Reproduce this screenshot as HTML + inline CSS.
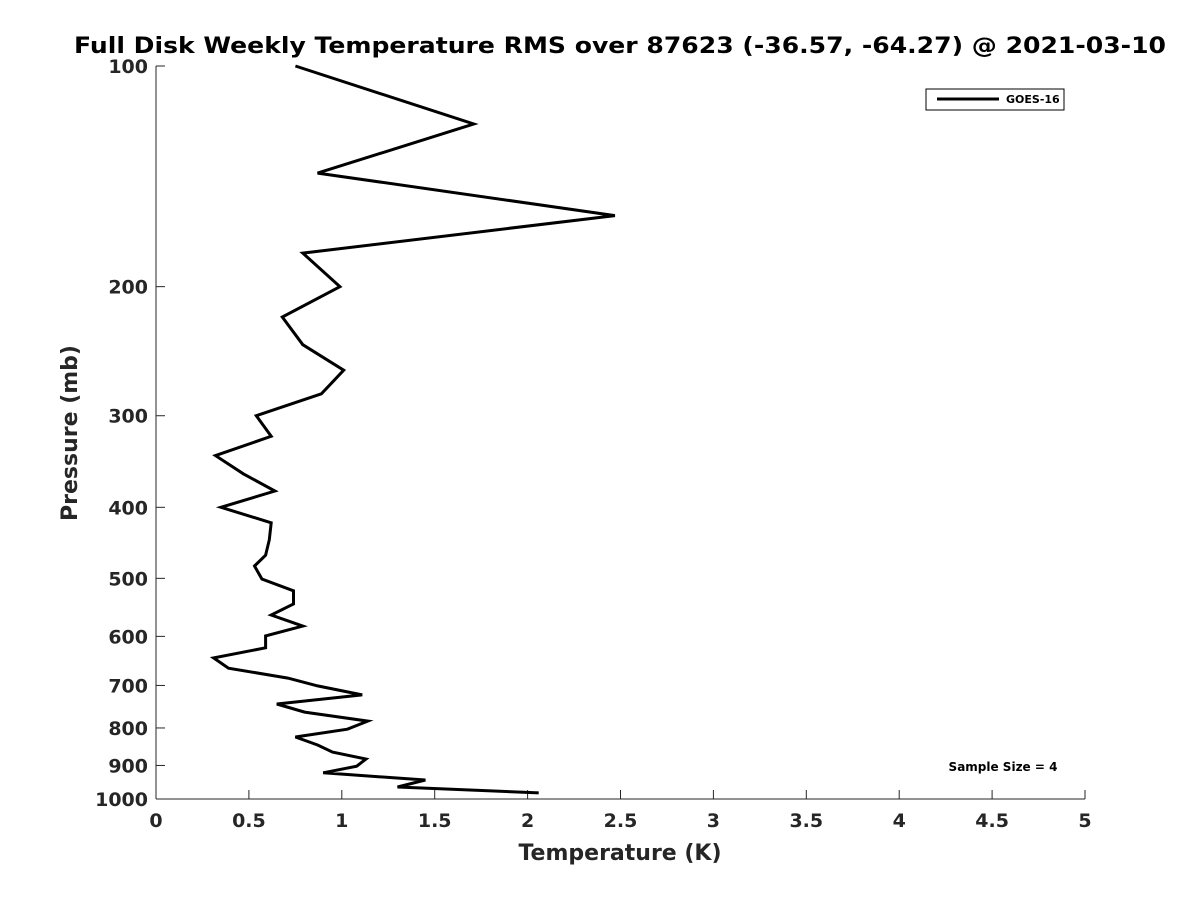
<!DOCTYPE html>
<html><head><meta charset="utf-8"><style>
html,body{margin:0;padding:0;background:#fff;}
svg{display:block;font-family:"DejaVu Sans","Liberation Sans",sans-serif;font-weight:bold;}
</style></head><body>
<svg id="chart" width="1200" height="900" viewBox="0 0 1200 900">
<rect width="1200" height="900" fill="#fff"/>
<text x="620" y="53" text-anchor="middle" font-size="22" fill="#000" textLength="1092" lengthAdjust="spacingAndGlyphs">Full Disk Weekly Temperature RMS over 87623 (-36.57, -64.27) @ 2021-03-10</text>
<g id="axes"></g>
<path id="line" fill="none" stroke="#000" stroke-width="3" stroke-linejoin="miter"/>
<g>
<rect x="926" y="89" width="138" height="21" fill="#fff" stroke="#000" stroke-width="1"/>
<line x1="937" y1="99" x2="999" y2="99" stroke="#000" stroke-width="3"/>
<text x="1006" y="103" font-size="11" fill="#000">GOES-16</text>
</g>
<text x="1003" y="771" text-anchor="middle" font-size="12" fill="#000">Sample Size = 4</text>
<text x="620" y="860" text-anchor="middle" font-size="22" fill="#262626">Temperature (K)</text>
<text transform="translate(77,433) rotate(-90)" text-anchor="middle" font-size="22" fill="#262626">Pressure (mb)</text>
</svg>
<script>
const pressures=[100,120,140,160,180,200,220,240,260,280,300,320,340,360,380,400,420,443,465,481,501,520,542,561,581,599,622,642,663,684,701,721,742,761,783,803,823,844,863,882,902,921,942,963,981];
const temps=[0.75,1.71,0.87,2.47,0.79,0.99,0.68,0.79,1.01,0.89,0.54,0.62,0.32,0.47,0.64,0.35,0.62,0.61,0.59,0.53,0.57,0.74,0.74,0.62,0.79,0.59,0.59,0.31,0.39,0.71,0.87,1.11,0.65,0.80,1.14,1.03,0.75,0.87,0.95,1.13,1.08,0.90,1.45,1.30,2.06];
const xTicks=[0,0.5,1,1.5,2,2.5,3,3.5,4,4.5,5];
const xTickLabels=["0","0.5","1","1.5","2","2.5","3","3.5","4","4.5","5"];
const yTicks=[100,200,300,400,500,600,700,800,900,1000];
const yTickLabels=["100","200","300","400","500","600","700","800","900","1000"];
const X0=156,X1=1085,Y0=66,Y1=799,XMAX=5;
function xs(v){return X0+(X1-X0)*v/XMAX;}
function ys(p){return Y0+(Y1-Y0)*Math.log10(p/100);}
const ns="http://www.w3.org/2000/svg";
const ax=document.getElementById('axes');
function mk(t,a){const e=document.createElementNS(ns,t);for(const k in a)e.setAttribute(k,a[k]);return e;}
const xl=mk('line',{x1:X0,y1:Y1,x2:X1,y2:Y1,stroke:'#262626','stroke-width':1});


ax.appendChild(xl);
const yl=mk('line',{x1:X0,y1:Y0,x2:X0,y2:Y1,stroke:'#262626','stroke-width':1});


ax.appendChild(yl);
xTicks.forEach((v,i)=>{
 const x=xs(v);
 const t=mk('line',{x1:x,y1:Y1,x2:x,y2:Y1-9,stroke:'#262626','stroke-width':1});
 
 
 ax.appendChild(t);
 const l=mk('text',{x:x,y:Y1+28,'text-anchor':'middle','font-size':19,fill:'#262626'});
 l.textContent=xTickLabels[i];
 
 
 ax.appendChild(l);
});
yTicks.forEach((v,i)=>{
 const y=ys(v);
 const t=mk('line',{x1:X0,y1:y,x2:X0+9,y2:y,stroke:'#262626','stroke-width':1});
 
 
 ax.appendChild(t);
 const l=mk('text',{x:X0-8,y:y+7,'text-anchor':'end','font-size':19,fill:'#262626'});
 l.textContent=yTickLabels[i];
 
 
 ax.appendChild(l);
});
document.getElementById('line').setAttribute('d',temps.map((t,i)=>(i?'L':'M')+xs(t).toFixed(1)+' '+ys(pressures[i]).toFixed(1)).join(' '));
</script>
</body></html>
